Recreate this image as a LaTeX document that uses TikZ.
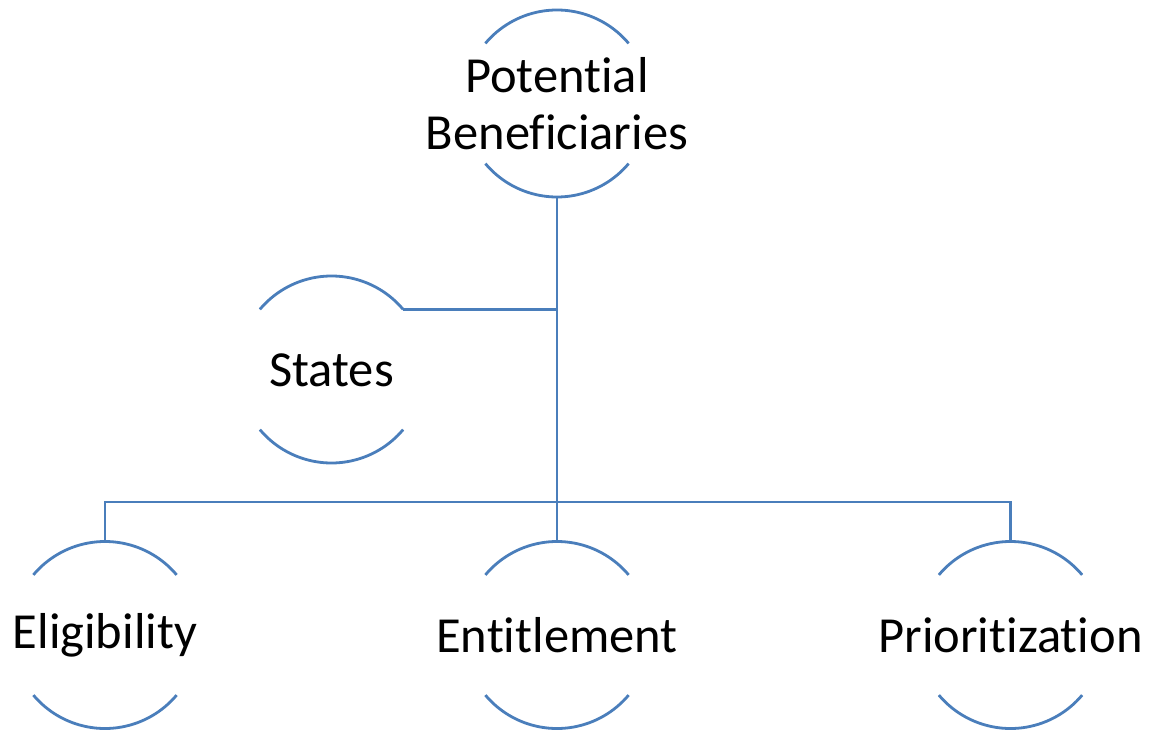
\documentclass[tikz,border=0pt]{standalone}
\usepackage{fontspec}
\setmainfont[Ligatures=NoCommon,RawFeature=-liga]{Carlito}
\definecolor{linkblue}{HTML}{4A7EBB}
\begin{document}
\begin{tikzpicture}[x=1pt,y=-1pt,
  ring/.style={circle,draw=none,minimum size=187pt,inner sep=0pt,outer sep=0pt},
  lbl/.style={align=center,inner sep=0pt,font=\fontsize{50.5}{57}\selectfont},
  arcline/.style={draw=linkblue,line width=2.8pt},
  link/.style={draw=linkblue,line width=2.8pt}]
\useasboundingbox (0,0) rectangle (1150,730);
% ring placeholders
\node[ring] (pbc) at (557,103.5) {};
\node[ring] (stc) at (331.5,369.5) {};
\node[ring] (elc) at (105,635) {};
\node[ring] (enc) at (557,635) {};
\node[ring] (prc) at (1010.5,635) {};
% labels
\node[lbl] (pb) at (557,104) {Potential\\Beneficiaries};
\node[lbl] (st) at (331.5,370) {States};
\node[lbl] (el) at (105,635) {Eligibility};
\node[lbl] (en) at (557,635) {Entitlement};
\node[lbl] (pr) at (1010.5,635) {Prioritization};
% arcs
\foreach \c in {pbc,stc,elc,enc,prc}{
  \draw[arcline] (\c.40) arc (40:140:93.5pt);
  \draw[arcline] (\c.220) arc (220:320:93.5pt);
}
% connectors
\coordinate (bus) at (557,502);
\draw[link] (pbc.south) -- (bus);
\draw[link] (stc.40) -- (stc.40 -| pbc.south);
\draw[link] (bus) -| (elc.north);
\draw[link] (bus) -| (prc.north);
\draw[link] (bus) -- (enc.north);
\end{tikzpicture}
\end{document}
